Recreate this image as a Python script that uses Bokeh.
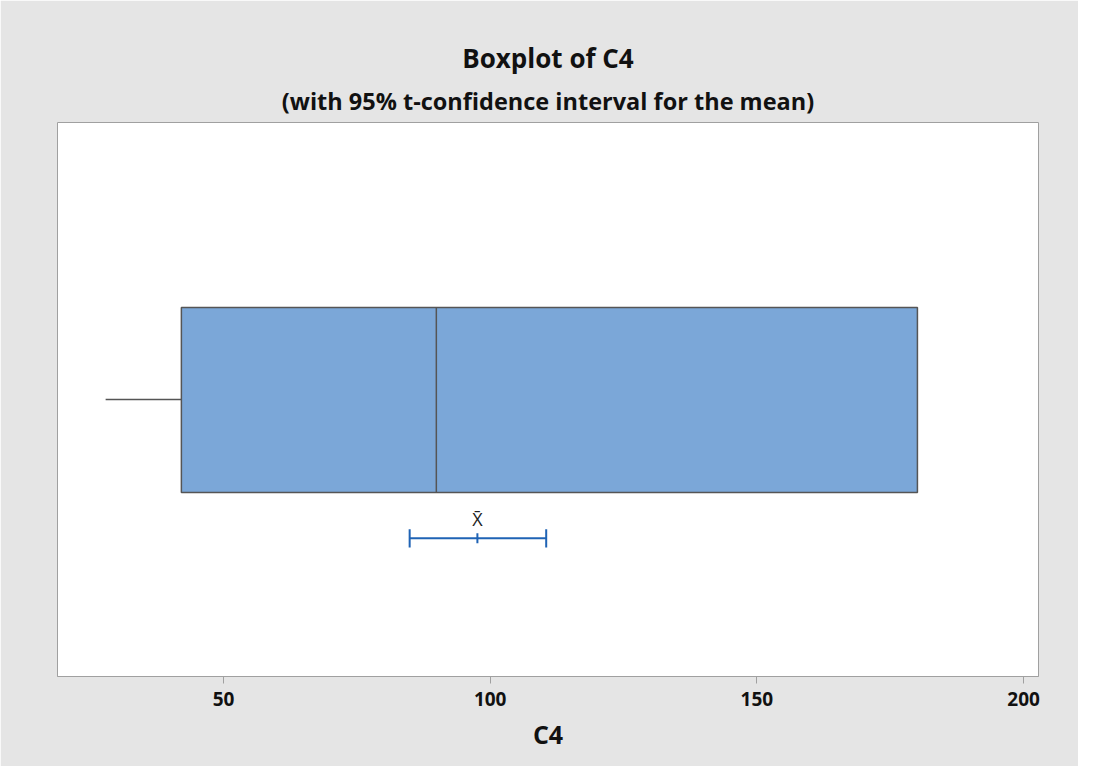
from bokeh.plotting import figure
from bokeh.models import Title, FixedTicker, ColumnDataSource
from bokeh.core.properties import value
from bokeh.embed import file_html
from bokeh.resources import INLINE

# ---- data ----
variable = "C4"
whisker_low = [27.9]
q1 = [42.1]
median = [89.9]
q3 = [180.1]
mean = [97.6]
ci_low = [84.9]
ci_high = [110.5]
x_ticks = [50, 100, 150, 200]

FONT = "Open Sans"
BOX_FILL = "#7BA7D8"
EDGE = "#555555"
CI_COLOR = "#1F63B5"
BG = "#E5E5E5"

p = figure(width=1078, height=766, x_range=(18.875, 202.8), y_range=(0, 1),
           output_backend="svg", toolbar_location=None, title=None,
           min_border_left=57, min_border_right=40, min_border_top=122,
           min_border_bottom=90)
p.background_fill_color = "white"
p.border_fill_color = BG
p.outline_line_color = "#A0A0A0"
p.outline_line_width = 1
p.grid.visible = False
p.yaxis.visible = False

ax = p.xaxis[0]
ax.ticker = FixedTicker(ticks=x_ticks)
ax.axis_label = variable
ax.axis_label_text_font = FONT
ax.axis_label_text_font_style = "bold"
ax.axis_label_text_font_size = "25px"
ax.axis_label_text_color = "#111111"
ax.axis_label_standoff = 8
ax.major_label_text_font = FONT
ax.major_label_text_font_style = "bold"
ax.major_label_text_font_size = "19px"
ax.major_label_text_color = "#111111"
ax.major_label_standoff = 8
ax.axis_line_color = "#A0A0A0"
ax.major_tick_line_color = "#A0A0A0"
ax.major_tick_out = 7
ax.major_tick_in = 0
ax.minor_tick_line_color = None

sub = Title(text="(with 95% t-confidence interval for the mean)", align="center",
            text_font=FONT, text_font_style="bold", text_font_size="23.5px",
            text_color="#111111", standoff=12)
main = Title(text="Boxplot of " + variable, align="center",
             text_font=FONT, text_font_style="bold", text_font_size="26px",
             text_color="#111111", standoff=2)
p.add_layout(sub, "above")
p.add_layout(main, "above")

# layout positions (not data)
box_bottom, box_top, mid_y = 0.332, 0.666, 0.5
ci_y = 0.2495

src = ColumnDataSource(dict(q1=q1, q3=q3, median=median, wl=whisker_low,
                            mean=mean, lo=ci_low, hi=ci_high))

# whisker
p.segment(x0="wl", y0=mid_y, x1="q1", y1=mid_y, source=src,
          line_color=EDGE, line_width=1.5)
# box
p.quad(left="q1", right="q3", bottom=box_bottom, top=box_top, source=src,
       fill_color=BOX_FILL, line_color=EDGE, line_width=1.5)
# median
p.segment(x0="median", y0=box_bottom, x1="median", y1=box_top, source=src,
          line_color=EDGE, line_width=1.5)

# confidence interval for the mean
p.segment(x0="lo", y0=ci_y, x1="hi", y1=ci_y, source=src,
          line_color=CI_COLOR, line_width=2)
cap = 0.0165
p.segment(x0="lo", y0=ci_y - cap, x1="lo", y1=ci_y + cap, source=src,
          line_color=CI_COLOR, line_width=2)
p.segment(x0="hi", y0=ci_y - cap, x1="hi", y1=ci_y + cap, source=src,
          line_color=CI_COLOR, line_width=2)
mcap = 0.009
p.segment(x0="mean", y0=ci_y - mcap, x1="mean", y1=ci_y + mcap, source=src,
          line_color=CI_COLOR, line_width=2)
p.text(x="mean", y=ci_y, text=value("X\u0304"), source=src,
       text_font=value(FONT), text_font_size="18px", text_color="#222222",
       text_align="center", text_baseline="bottom", y_offset=-7)

open("out.html", "w").write(file_html(p, INLINE))
